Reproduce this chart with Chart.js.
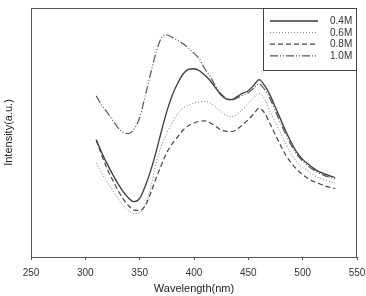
<!DOCTYPE html>
<html>
<head>
<meta charset="utf-8">
<script src="https://cdn.jsdelivr.net/npm/chart.js@4"></script>
<style>
  html, body { margin: 0; padding: 0; background: #fff; overflow: hidden; }
  #wrap { width: 366px; height: 296px; }
</style>
</head>
<body>
<div id="wrap"><canvas id="myChart" width="366" height="296"></canvas></div>
<script>
const longitudes = [310, 315, 320, 325, 330, 335, 340, 345, 350, 355, 360, 365, 370, 375, 380, 385, 390, 395, 400, 405, 410, 415, 420, 425, 430, 435, 440, 445, 450, 455, 460, 465, 470, 475, 480, 485, 490, 495, 500, 505, 510, 515, 520, 525, 530];

const serie04 = [47.1, 42.0, 37.5, 33.3, 29.5, 26.2, 23.6, 22.2, 23.5, 28.3, 34.5, 42.0, 50.5, 58.5, 65.0, 69.8, 73.5, 75.4, 75.6, 74.8, 73.0, 70.8, 67.8, 65.0, 63.4, 63.2, 64.5, 65.8, 66.8, 69.0, 71.2, 68.8, 65.0, 60.0, 55.0, 50.0, 45.6, 41.8, 39.2, 37.3, 35.6, 34.3, 33.4, 32.6, 31.9];
const serie06 = [37.8, 33.8, 30.2, 26.8, 23.5, 20.6, 18.5, 17.4, 17.8, 21.0, 27.5, 37.5, 44.5, 49.8, 54.0, 57.5, 59.8, 61.0, 61.8, 62.3, 62.5, 61.8, 60.3, 58.3, 56.8, 56.4, 57.5, 59.3, 61.8, 64.0, 65.8, 63.5, 58.4, 54.0, 49.5, 45.0, 41.0, 38.0, 36.0, 34.4, 32.9, 31.8, 30.9, 30.2, 29.6];
const serie08 = [47.0, 41.0, 35.5, 31.0, 26.8, 23.2, 20.5, 18.8, 18.6, 20.5, 25.5, 31.5, 37.0, 42.0, 45.5, 48.2, 51.0, 52.8, 53.8, 54.5, 54.7, 53.8, 52.5, 51.0, 50.5, 50.4, 51.5, 53.2, 55.2, 57.5, 59.8, 57.8, 53.5, 49.0, 44.5, 40.5, 37.5, 35.0, 33.0, 31.5, 30.3, 29.5, 28.6, 28.0, 27.5];
const serie10 = [64.7, 61.0, 58.2, 55.0, 52.0, 50.0, 49.6, 51.5, 56.0, 64.5, 73.5, 82.0, 88.0, 89.2, 88.2, 87.0, 85.6, 83.8, 81.8, 79.5, 75.5, 72.5, 68.5, 65.5, 63.6, 63.2, 64.0, 65.0, 66.0, 67.8, 69.5, 67.2, 63.5, 58.5, 53.5, 48.8, 44.5, 41.0, 38.5, 36.5, 35.0, 33.7, 32.7, 32.0, 31.3];

const etiquetas = ['0.4M', '0.6M', '0.8M', '1.0M'];
const ticksX = [250, 300, 350, 400, 450, 500, 550];

function puntos(valores) {
  return longitudes.map((x, i) => ({ x: x, y: valores[i] }));
}

const fuente = "'Liberation Sans', Arial, sans-serif";

// marco del area + leyenda con recuadro
const marcoYLeyenda = {
  id: 'marcoYLeyenda',
  afterDatasetsDraw(chart) {
    const ctx = chart.ctx;
    const a = chart.chartArea;
    ctx.save();
    ctx.strokeStyle = '#555';
    ctx.lineWidth = 1;
    ctx.setLineDash([]);
    ctx.strokeRect(a.left + 0.5, a.top + 0.5, a.right - a.left - 1, a.bottom - a.top);

    const cajaIzq = a.right - 94;
    const cajaTop = a.top;
    ctx.fillStyle = '#fff';
    ctx.fillRect(cajaIzq, cajaTop, 94, 62);
    ctx.strokeStyle = '#444';
    ctx.strokeRect(cajaIzq + 0.5, cajaTop + 0.5, 93, 62);

    chart.data.datasets.forEach((ds, i) => {
      const y = cajaTop + 13 + i * 11.6;
      ctx.beginPath();
      ctx.strokeStyle = ds.borderColor;
      ctx.lineWidth = ds.borderWidth;
      ctx.setLineDash(ds.borderDash || []);
      ctx.moveTo(cajaIzq + 7, y);
      ctx.lineTo(cajaIzq + 55, y);
      ctx.stroke();
      ctx.setLineDash([]);
      ctx.fillStyle = '#333';
      ctx.font = '10px ' + fuente;
      ctx.textBaseline = 'middle';
      ctx.textAlign = 'left';
      ctx.fillText(ds.label, cajaIzq + 67, y + 0.5);
    });
    ctx.restore();
  }
};

const ctx = document.getElementById('myChart').getContext('2d');
const chart = new Chart(ctx, {
  type: 'line',
  data: {
    datasets: [
      { label: etiquetas[0], data: puntos(serie04), borderColor: '#3a3a3a', borderWidth: 1.3, borderDash: [] },
      { label: etiquetas[1], data: puntos(serie06), borderColor: '#7a7a7a', borderWidth: 1, borderDash: [1, 2] },
      { label: etiquetas[2], data: puntos(serie08), borderColor: '#444', borderWidth: 1.2, borderDash: [5, 3] },
      { label: etiquetas[3], data: puntos(serie10), borderColor: '#555', borderWidth: 1.2, borderDash: [8, 2, 1, 2, 1, 2] }
    ]
  },
  options: {
    responsive: false,
    animation: false,
    layout: { padding: { top: 8, right: 9, left: 0, bottom: 0 } },
    elements: {
      point: { radius: 0 },
      line: { cubicInterpolationMode: 'monotone', fill: false }
    },
    plugins: {
      legend: { display: false },
      tooltip: { enabled: false }
    },
    scales: {
      x: {
        type: 'linear',
        min: 250,
        max: 550,
        afterBuildTicks: s => { s.ticks = ticksX.map(v => ({ value: v })); },
        afterFit: s => {
          s.height = 39;
          s.paddingLeft = 0;
          s.paddingRight = 0;
        },
        grid: { display: true, drawOnChartArea: false, drawTicks: true, tickLength: 3, color: '#555' },
        border: { display: false },
        ticks: { color: '#333', padding: 7, font: { size: 10, family: fuente } },
        title: { display: true, text: 'Wavelength(nm)', color: '#222', padding: 0, font: { size: 11, family: fuente } }
      },
      y: {
        min: 0,
        max: 100,
        afterFit: s => { s.width = 31; },
        grid: { display: false },
        border: { display: false },
        ticks: { display: false },
        title: { display: true, text: 'Intensity(a.u.)', color: '#222', padding: { top: 2, bottom: 0 }, font: { size: 11, family: fuente } }
      }
    }
  },
  plugins: [marcoYLeyenda]
});
</script>
</body>
</html>
